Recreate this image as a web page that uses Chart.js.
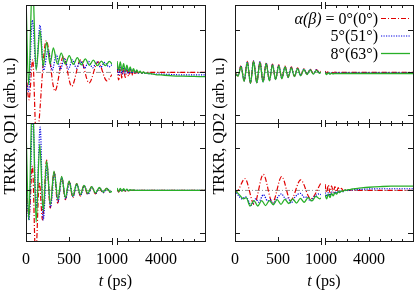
<!DOCTYPE html>
<html><head><meta charset="utf-8">
<script src="https://cdn.jsdelivr.net/npm/chart.js@4.4.1/dist/chart.umd.min.js"></script>
<style>
html,body{margin:0;padding:0;background:#fff;}
#fig{position:relative;width:415px;height:292px;overflow:hidden;font-family:'Liberation Serif','Times New Roman',serif;color:#000;}
canvas{position:absolute;}
.lbl{position:absolute;white-space:nowrap;font-size:16px;line-height:16px;}
</style></head><body><div id="fig"></div>
<script>
// ---------- tick definitions ----------
const leftTicks = [0, 500, 1000];
const leftTickLabels = ['0', '500', '1000'];
const rightTicks = [2000, 2500, 3000, 3500, 4000, 4500, 5000, 5500, 6000];
const rightLabeled = [4000];
const yTicks = [-1, 0, 1];
const seriesNames = ['0°(0°)', '5°(51°)', '8°(63°)'];

// ---------- QD1 upper panel, 0-1000 ps : [t, signal] ----------
const qd1aRed = [[0,0.0],[35,-0.65],[78,0.3],[120,-1.6],[235,0.75],[337,-0.44],[435,0.38],[531,-0.33],[635,0.3],[733,-0.25],[838,0.25],[940,-0.2],[1000,-0.05]];
const qd1aBlue = [[0,-0.2],[30,-0.45],[74,1.24],[118,0.1],[163,1.12],[205,0.05],[258,0.55],[305,0.05],[352,0.42],[399,0.07],[446,0.34],[493,0.08],[540,0.3],[587,0.1],[634,0.27],[681,0.1],[728,0.26],[775,0.11],[822,0.25],[869,0.12],[916,0.24],[963,0.13],[1000,0.18]];
const qd1aGreen = [[0,1.8],[30,-0.3],[75,2.2],[118,0.05],[163,1.0],[200,0.15],[240,0.72],[280,0.2],[318,0.58],[365,0.2],[410,0.46],[457,0.2],[503,0.4],[550,0.19],[597,0.35],[643,0.18],[690,0.32],[737,0.17],[783,0.29],[830,0.16],[877,0.27],[923,0.16],[970,0.26],[1000,0.2]];

// ---------- QD1 lower panel, 0-1000 ps ----------
const qd1bRed = [[0,0.3],[35,-0.6],[75,0.58],[112,-1.6],[155,0.2],[192,-0.7],[240,0.72],[282,-0.42],[326,0.45],[368,-0.3],[415,0.32],[458,-0.22],[500,0.22],[545,-0.17],[589,0.16],[632,-0.13],[674,0.12],[718,-0.1],[763,0.09],[808,-0.08],[853,0.06],[895,-0.06],[938,0.05],[980,-0.05],[1000,-0.03]];
const qd1bBlue = [[0,0.3],[35,-0.7],[78,1.8],[120,-0.4],[165,1.5],[200,-0.7],[245,0.6],[285,-0.4],[330,0.42],[372,-0.27],[418,0.3],[460,-0.2],[505,0.2],[548,-0.15],[592,0.15],[635,-0.12],[678,0.11],[722,-0.09],[766,0.08],[810,-0.07],[856,0.06],[900,-0.05],[942,0.05],[985,-0.04],[1000,-0.02]];
const qd1bGreen = [[0,1.5],[32,-0.7],[75,2.3],[118,-0.75],[160,1.1],[200,-0.49],[240,0.7],[283,-0.33],[326,0.46],[370,-0.21],[415,0.33],[458,-0.17],[500,0.22],[545,-0.13],[589,0.16],[632,-0.1],[674,0.12],[718,-0.07],[763,0.09],[808,-0.06],[853,0.07],[895,-0.04],[938,0.05],[980,-0.04],[1000,-0.02]];

// ---------- QD2 upper panel, 0-1000 ps ----------
const qd2aRed = [[0,0],[35,-0.08],[70,0.16],[106,-0.2],[143,0.26],[180,-0.25],[216,0.28],[253,-0.24],[290,0.26],[326,-0.22],[363,0.23],[400,-0.19],[436,0.2],[472,-0.16],[509,0.18],[545,-0.14],[582,0.15],[618,-0.11],[655,0.13],[691,-0.09],[728,0.11],[764,-0.07],[801,0.09],[837,-0.04],[874,0.08],[910,-0.03],[947,0.07],[983,-0.01],[1000,0.03]];
const qd2aBlue = [[0,0],[35,-0.08],[70,0.15],[106,-0.2],[143,0.25],[180,-0.25],[216,0.27],[253,-0.24],[290,0.25],[326,-0.22],[363,0.22],[400,-0.19],[436,0.19],[472,-0.16],[509,0.17],[545,-0.14],[582,0.14],[618,-0.11],[655,0.12],[691,-0.09],[728,0.1],[764,-0.07],[801,0.08],[837,-0.04],[874,0.07],[910,-0.03],[947,0.06],[983,-0.01],[1000,0.02]];
const qd2aGreen = [[0,0],[35,-0.09],[70,0.14],[106,-0.21],[143,0.24],[180,-0.26],[216,0.26],[253,-0.25],[290,0.24],[326,-0.23],[363,0.21],[400,-0.2],[436,0.18],[472,-0.17],[509,0.16],[545,-0.15],[582,0.13],[618,-0.12],[655,0.11],[691,-0.1],[728,0.09],[764,-0.08],[801,0.07],[837,-0.05],[874,0.06],[910,-0.04],[947,0.05],[983,-0.02],[1000,0.01]];

// ---------- QD2 lower panel, 0-1000 ps ----------
const qd2bRed = [[0,0],[20,-0.02],[116,0.28],[223,-0.33],[329,0.38],[436,-0.29],[543,0.33],[647,-0.24],[764,0.25],[880,-0.2],[1000,0.18]];
const qd2bBlue = [[0,0],[40,-0.12],[85,-0.2],[125,-0.15],[190,-0.35],[240,-0.2],[275,-0.28],[330,-0.1],[380,-0.25],[410,-0.22],[440,-0.32],[490,-0.18],[540,-0.08],[590,-0.2],[620,-0.18],[650,-0.3],[700,-0.15],[760,-0.07],[810,-0.17],[840,-0.15],[875,-0.25],[930,-0.13],[980,-0.08],[1000,-0.1]];
const qd2bGreen = [[0,0],[50,-0.1],[100,-0.2],[130,-0.17],[175,-0.37],[220,-0.24],[265,-0.37],[310,-0.24],[355,-0.36],[400,-0.24],[445,-0.34],[490,-0.22],[535,-0.33],[580,-0.21],[625,-0.31],[670,-0.2],[715,-0.3],[760,-0.19],[805,-0.28],[850,-0.17],[895,-0.25],[940,-0.14],[985,-0.2],[1000,-0.18]];

// ---------- long-time segment: shared times (ps) ----------
const rightT = [2000,2075,2150,2225,2300,2375,2450,2525,2600,2675,2750,2825,2900,2975,3050,3125,3200,3275,3350,3425,3500,3750,4000,4500,5000,5500,6000];
const qd1aRightRed   = [0.12,-0.18,0.1,-0.15,0.08,-0.12,0.06,-0.09,0.05,-0.07,0.04,-0.05,0.03,-0.03,0.02,-0.02,0.01,-0.01,0,0,0,0,0,0,0,0,0];
const qd1aRightBlue  = [0.2,-0.05,0.18,-0.04,0.15,-0.03,0.12,-0.03,0.09,-0.02,0.06,-0.02,0.04,-0.02,0.02,-0.02,0.0,-0.02,-0.02,-0.03,-0.03,-0.04,-0.04,-0.05,-0.06,-0.06,-0.06];
const qd1aRightGreen = [0.27,0.05,0.25,0.04,0.21,0.03,0.17,0.02,0.13,0.01,0.09,0.0,0.06,-0.01,0.03,-0.02,0.01,-0.02,-0.01,-0.03,-0.03,-0.05,-0.06,-0.08,-0.09,-0.095,-0.1];
const qd1bRightRed   = [0.03,-0.04,0.02,-0.03,0.02,-0.02,0.01,-0.01,0,0,0,0,0,0,0,0,0,0,0,0,0,0,0,0,0,0,0];
const qd1bRightBlue  = [0.04,-0.03,0.03,-0.02,0.02,-0.01,0.01,0,0,0,0,0,0,0,0,0,0,0,0,0,0,0,0,0,0,0,0];
const qd1bRightGreen = [0.06,-0.03,0.05,-0.02,0.04,-0.01,0.03,-0.01,0.02,0,0.01,0,0,0,0,0,0,0,0,0,0,0,0,0,0,0,0];
const qd2aRightRed   = [0.03,-0.02,0.02,-0.02,0.01,-0.01,0.01,0,0,0,0,0,0,0,0,0,0,0,0,0,0,0,0,0,0,0,0];
const qd2aRightBlue  = [0.01,-0.03,0,-0.03,-0.01,-0.02,-0.01,-0.015,-0.01,-0.01,-0.01,-0.01,-0.01,-0.01,-0.01,-0.01,-0.01,-0.01,-0.01,-0.01,-0.01,-0.01,-0.01,-0.01,-0.01,-0.01,-0.01];
const qd2aRightGreen = [0,-0.05,-0.01,-0.04,-0.02,-0.035,-0.025,-0.03,-0.025,-0.03,-0.025,-0.025,-0.025,-0.025,-0.025,-0.025,-0.025,-0.025,-0.025,-0.025,-0.025,-0.025,-0.025,-0.025,-0.025,-0.025,-0.025];
const qd2bRightRed   = [0.15,-0.05,0.13,-0.05,0.11,-0.04,0.09,-0.03,0.07,-0.02,0.05,-0.01,0.03,0,0.02,0,0.01,0,0,0,0,0,0,0,0,0,0];
const qd2bRightBlue  = [-0.05,-0.14,-0.05,-0.12,-0.04,-0.1,-0.03,-0.07,-0.02,-0.05,-0.01,-0.03,0,-0.01,0.01,0,0.01,0.01,0.02,0.02,0.02,0.03,0.035,0.04,0.04,0.04,0.04];
const qd2bRightGreen = [-0.1,-0.2,-0.09,-0.17,-0.07,-0.13,-0.05,-0.09,-0.03,-0.05,-0.01,-0.02,0.01,0,0.02,0.02,0.03,0.035,0.04,0.045,0.05,0.065,0.075,0.09,0.1,0.1,0.1];

// ---------- styles & layout ----------
const styles = [
  {color:'rgb(225,0,0)', dash:[5,2,1,2], width:1.2, order:2},
  {color:'rgb(0,0,225)', dash:[1.2,1.3], width:1.2, order:1},
  {color:'rgb(40,175,40)', dash:[], width:1.3, order:0}
];
const M = 6;
const Y_MIN = -1.2, Y_MAX = 1.6;
const fig = document.getElementById('fig');

const framePlugin = {
  id: 'frame',
  beforeDatasetsDraw(chart, args, o) {
    const {ctx, chartArea:a, scales:{y}} = chart;
    const y0 = y.getPixelForValue(0);
    ctx.save();
    ctx.strokeStyle = '#999'; ctx.lineWidth = 1; ctx.setLineDash([5,2,1,2]);
    ctx.beginPath(); ctx.moveTo(a.left, y0); ctx.lineTo(a.right, y0); ctx.stroke();
    ctx.restore();
  },
  afterDatasetsDraw(chart, args, o) {
    const {ctx, chartArea:a, scales:{x, y}} = chart;
    const L = a.left, R = a.right, T = a.top, B = a.bottom;
    ctx.save();
    ctx.strokeStyle = '#1a1a1a'; ctx.lineWidth = 1; ctx.setLineDash([]);
    ctx.beginPath();
    ctx.moveTo(L, T + 0.5); ctx.lineTo(R, T + 0.5);
    ctx.moveTo(L, B + 0.5); ctx.lineTo(R, B + 0.5);
    if (o.side === 'left') { ctx.moveTo(L + 0.5, T); ctx.lineTo(L + 0.5, B + 1); }
    else { ctx.moveTo(R + 0.5, T); ctx.lineTo(R + 0.5, B + 1); }
    for (const v of yTicks) {
      const py = Math.round(y.getPixelForValue(v)) + 0.5;
      if (o.side === 'left') { ctx.moveTo(L, py); ctx.lineTo(L + 5, py); }
      else { ctx.moveTo(R, py); ctx.lineTo(R - 5, py); }
    }
    for (const v of o.ticks) {
      const px = Math.round(x.getPixelForValue(v)) + 0.5;
      if (px < L + 2 || px > R - 1) continue;
      const len = o.major.includes(v) ? 5 : 3;
      ctx.moveTo(px, T); ctx.lineTo(px, T + len);
      ctx.moveTo(px, B + 1); ctx.lineTo(px, B + 1 - len);
    }
    const bx = (o.side === 'left' ? R : L) + 0.5;
    ctx.moveTo(bx, T - 3); ctx.lineTo(bx, T + 4);
    ctx.moveTo(bx, B - 3); ctx.lineTo(bx, B + 4);
    ctx.stroke();
    if (o.legend) {
      styles.forEach((s, i) => {
        const ly = T + 13.5 + i * 17.5;
        ctx.strokeStyle = s.color; ctx.lineWidth = s.width; ctx.setLineDash(s.dash);
        ctx.beginPath(); ctx.moveTo(R - 32, ly); ctx.lineTo(R - 3, ly); ctx.stroke();
      });
    }
    ctx.restore();
  }
};

function pairs(arr) { return arr.map(p => ({x: p[0], y: p[1]})); }
function zipT(vals) { return rightT.map((t, i) => ({x: t, y: vals[i]})); }

function makeSeg(pl, pt, pw, ph, xMin, xMax, seriesData, frameOpts) {
  const c = document.createElement('canvas');
  c.width = pw + 2 * M; c.height = ph + 2 * M;
  c.style.left = (pl - M) + 'px'; c.style.top = (pt - M) + 'px';
  c.style.width = c.width + 'px'; c.style.height = c.height + 'px';
  fig.appendChild(c);
  const chart = new Chart(c, {
    type: 'line',
    data: { datasets: seriesData.map((d, i) => ({
      data: d, borderColor: styles[i].color, borderWidth: styles[i].width,
      borderDash: styles[i].dash, pointRadius: 0, fill: false,
      cubicInterpolationMode: 'monotone', order: styles[i].order
    })) },
    options: {
      responsive: false, animation: false, events: [],
      layout: { padding: M },
      scales: {
        x: { type: 'linear', min: xMin, max: xMax, display: false },
        y: { type: 'linear', min: Y_MIN, max: Y_MAX, display: false }
      },
      plugins: { legend: {display: false}, tooltip: {enabled: false}, frame: frameOpts }
    },
    plugins: [framePlugin]
  });
  return {chart, offX: pl - M, offY: pt - M};
}

const leftFrame = {side: 'left', ticks: leftTicks, major: leftTicks};
const rightFrame = {side: 'right', ticks: rightTicks, major: rightLabeled};
const rows = [5, 123];
const H = 118;

const s1 = makeSeg(26, rows[0], 86, H, 0, 1000, [pairs(qd1aRed), pairs(qd1aBlue), pairs(qd1aGreen)], leftFrame);
const s2 = makeSeg(117, rows[0], 88, H, 2000, 6000, [zipT(qd1aRightRed), zipT(qd1aRightBlue), zipT(qd1aRightGreen)], rightFrame);
const s3 = makeSeg(26, rows[1], 86, H, 0, 1000, [pairs(qd1bRed), pairs(qd1bBlue), pairs(qd1bGreen)], leftFrame);
const s4 = makeSeg(117, rows[1], 88, H, 2000, 6000, [zipT(qd1bRightRed), zipT(qd1bRightBlue), zipT(qd1bRightGreen)], rightFrame);
const s5 = makeSeg(235, rows[0], 86, H, 0, 1000, [pairs(qd2aRed), pairs(qd2aBlue), pairs(qd2aGreen)], leftFrame);
const s6 = makeSeg(325, rows[0], 88, H, 2000, 6000, [zipT(qd2aRightRed), zipT(qd2aRightBlue), zipT(qd2aRightGreen)], Object.assign({legend: true}, rightFrame));
const s7 = makeSeg(235, rows[1], 86, H, 0, 1000, [pairs(qd2bRed), pairs(qd2bBlue), pairs(qd2bGreen)], leftFrame);
const s8 = makeSeg(325, rows[1], 88, H, 2000, 6000, [zipT(qd2bRightRed), zipT(qd2bRightBlue), zipT(qd2bRightGreen)], rightFrame);

// ---------- text ----------
function addLabel(html, cx, cy, extra) {
  const d = document.createElement('div');
  d.className = 'lbl'; d.innerHTML = html;
  d.style.left = cx + 'px'; d.style.top = cy + 'px';
  d.style.transform = 'translate(-50%,-50%)' + (extra || '');
  fig.appendChild(d);
  return d;
}
function tickLabels(seg, vals, texts) {
  const x = seg.chart.scales.x;
  vals.forEach((v, i) => addLabel(texts[i], seg.offX + x.getPixelForValue(v), 259));
}
tickLabels(s3, leftTicks, leftTickLabels);
tickLabels(s4, rightLabeled, rightLabeled.map(String));
tickLabels(s7, leftTicks, leftTickLabels);
tickLabels(s8, rightLabeled, rightLabeled.map(String));

function colCenter(a, b) { return (a.offX + a.chart.chartArea.left + b.offX + b.chart.chartArea.right) / 2; }
addLabel('<i>t</i> (ps)', colCenter(s3, s4), 281);
addLabel('<i>t</i> (ps)', colCenter(s7, s8), 281);
addLabel('TRKR, QD1 (arb. u.)', 9.5, 126, ' rotate(-90deg)');
addLabel('TRKR, QD2 (arb. u.)', 218.5, 126, ' rotate(-90deg)');

// legend text (right-aligned before the line samples)
const lgArea = s6.chart.chartArea;
const lgTexts = ['<i>α(β)</i> = ' + seriesNames[0], seriesNames[1], seriesNames[2]];
lgTexts.forEach((t, i) => {
  const d = document.createElement('div');
  d.className = 'lbl'; d.innerHTML = t;
  const rightEdge = s6.offX + lgArea.right - 35;
  d.style.right = (415 - rightEdge) + 'px';
  d.style.top = (s6.offY + lgArea.top + 13.5 + i * 17.5 - 8) + 'px';
  fig.appendChild(d);
});
</script></body></html>
